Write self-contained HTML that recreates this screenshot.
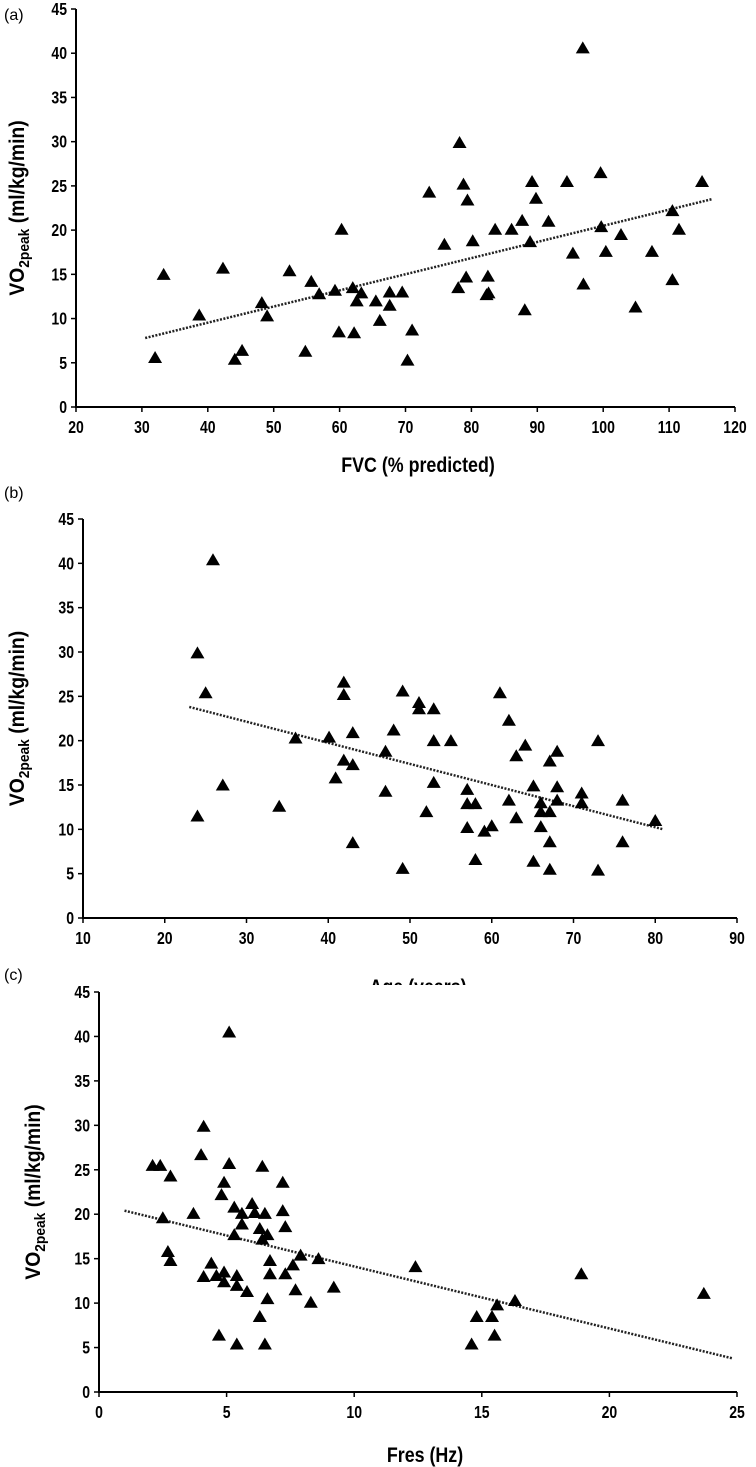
<!DOCTYPE html>
<html><head><meta charset="utf-8"><style>
html,body{margin:0;padding:0;background:#fff;}
svg{display:block;font-family:"Liberation Sans",sans-serif;}
.tk{font-size:18px;font-weight:bold;}
.tt{font-size:21px;font-weight:bold;}
.pl{font-size:16px;}
</style></head><body>
<svg id="chart" width="756" height="1467" viewBox="0 0 756 1467"></svg>
<script>
// Panel (a): FVC (% predicted)
const fvcX=[32,33.3,38.7,42.3,44.1,45.2,48.2,49,52.4,54.8,55.7,56.9,59.3,59.9,60.3,62,62.2,62.6,63.3,65.5,66.1,67.6,67.6,69.5,70.3,71,73.6,75.9,78,78.2,78.8,79.2,79.4,80.2,82.3,82.5,82.6,83.6,86.1,87.7,88.1,88.9,89.2,89.8,91.7,94.5,95.4,96.9,97,99.6,99.7,100.4,102.7,104.9,107.4,110.5,110.5,111.5,115];
const fvcY=[5.6,15.0,10.4,15.7,5.4,6.4,11.8,10.3,15.4,6.3,14.2,12.8,13.2,8.5,20.1,13.5,8.4,12.0,12.9,12.0,9.8,11.5,13.0,13.0,5.3,8.7,24.3,18.4,13.5,29.9,25.2,14.7,23.4,18.8,12.7,14.8,12.9,20.1,20.1,21.1,11.0,18.7,25.5,23.6,21.0,25.5,17.4,40.6,13.9,26.5,20.4,17.6,19.5,11.3,17.6,22.2,14.4,20.1,25.5];
const fvcTrend=[[30.5,7.8],[116.5,23.5]];
const fvcTicks=[20,30,40,50,60,70,80,90,100,110,120];
// Panel (b): Age
const ageX=[24,24,25,25.9,27.1,34,36,40.1,40.9,41.9,41.9,41.9,43,43,43,47,47,48,49.1,49.1,51.1,51.1,52,52.9,52.9,52.9,55,57,57,57,58,58,59.1,60,61,62.1,62.1,63,63,64.1,65.1,65.1,66,66,66,67.1,67.1,67.1,67.1,68,68,68,71,71,73,73,76,76,80];
const ageY=[29.9,11.5,25.4,40.4,15.0,12.6,20.3,20.4,15.8,26.6,25.2,17.8,17.3,20.9,8.5,14.3,18.8,21.2,25.6,5.6,24.3,23.6,12.0,23.6,20.0,15.3,20.0,14.5,12.9,10.2,12.9,6.6,9.8,10.4,25.4,22.3,13.3,18.3,11.3,19.5,14.9,6.4,13.0,12.0,10.3,17.7,12.0,8.6,5.5,18.8,14.8,13.3,14.1,13.0,20.0,5.4,13.3,8.6,11.0];
const ageTrend=[[23,23.8],[81,10.0]];
const ageTicks=[10,20,30,40,50,60,70,80,90];
// Panel (c): Fres
const fresX=[2.1,2.4,2.8,2.5,2.7,2.8,3.7,4.1,4.0,4.1,4.4,4.6,4.7,4.8,4.9,4.9,4.9,5.1,5.1,5.3,5.3,5.4,5.4,5.4,5.6,5.6,5.8,6.0,6.1,6.3,6.3,6.4,6.4,6.5,6.5,6.6,6.6,6.7,6.7,7.2,7.2,7.3,7.3,7.6,7.7,7.9,8.3,8.6,9.2,12.4,14.6,14.8,15.4,15.5,15.6,16.3,18.9,23.7];
const fresY=[25.5,25.5,24.3,19.6,15.8,14.8,20.1,29.9,26.7,13.0,14.5,13.1,6.4,22.2,23.6,13.5,12.4,40.5,25.7,20.8,17.7,13.1,5.4,12.0,20.1,18.9,11.3,21.2,20.2,18.4,8.5,17.2,25.4,5.4,20.1,10.5,17.7,14.8,13.3,23.6,20.4,13.3,18.6,14.3,11.5,15.4,10.1,15.0,11.8,14.1,5.4,8.5,8.5,6.4,9.8,10.3,13.3,11.1];
const fresTrend=[[1,20.4],[24.8,3.8]];
const fresTicks=[0,5,10,15,20,25];
const yTicks=[0,5,10,15,20,25,30,35,40,45];

const svg=document.getElementById('chart');
const NS='http://www.w3.org/2000/svg';
function mk(tag,attrs,parent){const e=document.createElementNS(NS,tag);for(const k in attrs)e.setAttribute(k,attrs[k]);(parent||svg).appendChild(e);return e;}

function panel(id,cfg){
  const g=mk('g',{});
  
  
  const sx=v=>cfg.x0+(v-cfg.xmin)/(cfg.xmax-cfg.xmin)*(cfg.x1-cfg.x0);
  const sy=v=>cfg.y0-(v/45)*(cfg.y0-cfg.y45);
  const ax=mk('path',{d:`M${cfg.x0} ${cfg.y45}V${cfg.y0}H${cfg.x1}`,stroke:'#000','stroke-width':2,fill:'none'},g);
  
  
  yTicks.forEach(t=>{
    const y=sy(t);
    mk('line',{x1:cfg.x0-5,x2:cfg.x0,y1:y,y2:y,stroke:'#000','stroke-width':1.5},g);
    const tx=mk('text',{transform:`translate(${cfg.x0-9},${y+6}) scale(0.78,1)`,'text-anchor':'end',class:'tk'},g);
    tx.textContent=t;
    
    
  });
  cfg.ticks.forEach(t=>{
    const x=sx(t);
    mk('line',{x1:x,x2:x,y1:cfg.y0,y2:cfg.y0+5,stroke:'#000','stroke-width':1.5},g);
    const tx=mk('text',{transform:`translate(${x},${cfg.y0+26}) scale(0.78,1)`,'text-anchor':'middle',class:'tk'},g);
    tx.textContent=t;
    
    
  });
  const tr=mk('line',{x1:sx(cfg.trend[0][0]),y1:sy(cfg.trend[0][1]),x2:sx(cfg.trend[1][0]),y2:sy(cfg.trend[1][1]),stroke:'#222','stroke-width':2.5,'stroke-dasharray':'2 1.5'},g);
  
  
  cfg.xs.forEach((xv,i)=>{
    const cx=sx(xv),cy=sy(cfg.ys[i]);
    const p=mk('path',{d:`M${cx} ${cy-6.5}L${cx+7} ${cy+5.5}L${cx-7} ${cy+5.5}Z`,fill:'#000'},g);
    
    
  });
  const yl=mk('text',{transform:`translate(${cfg.ylx},${(cfg.y0+cfg.y45)/2}) rotate(-90) scale(0.92,1)`,'text-anchor':'middle',class:'tt'},g);
  yl.innerHTML='VO<tspan font-size="15" dy="5">2peak</tspan><tspan dy="-5"> (ml/kg/min)</tspan>';
  
  
  const xl=mk('text',{transform:`translate(${cfg.xlx},${cfg.xly}) scale(0.85,1)`,'text-anchor':'middle',class:'tt'},g);
  xl.textContent=cfg.xtitle;
  
  
  const pl=mk('text',{x:4,y:cfg.ply,class:'pl'},g);
  pl.textContent=cfg.label;
  
  
}
panel('a',{x0:76,x1:735,xmin:20,xmax:120,y0:407,y45:9,ticks:fvcTicks,xs:fvcX,ys:fvcY,trend:fvcTrend,ylx:24,xlx:418,xly:472,xtitle:'FVC (% predicted)',label:'(a)',ply:20});
panel('b',{x0:83,x1:737,xmin:10,xmax:90,y0:918,y45:519,ticks:ageTicks,xs:ageX,ys:ageY,trend:ageTrend,ylx:24,xlx:418,xly:994,xtitle:'Age (years)',label:'(b)',ply:498});
// clip lower part of Age title
mk('rect',{x:300,y:985,width:250,height:14,fill:'#fff'});
panel('c',{x0:99,x1:737,xmin:0,xmax:25,y0:1392,y45:992,ticks:fresTicks,xs:fresX,ys:fresY,trend:fresTrend,ylx:40,xlx:425,xly:1462,xtitle:'Fres (Hz)',label:'(c)',ply:980});
</script>
</body></html>
